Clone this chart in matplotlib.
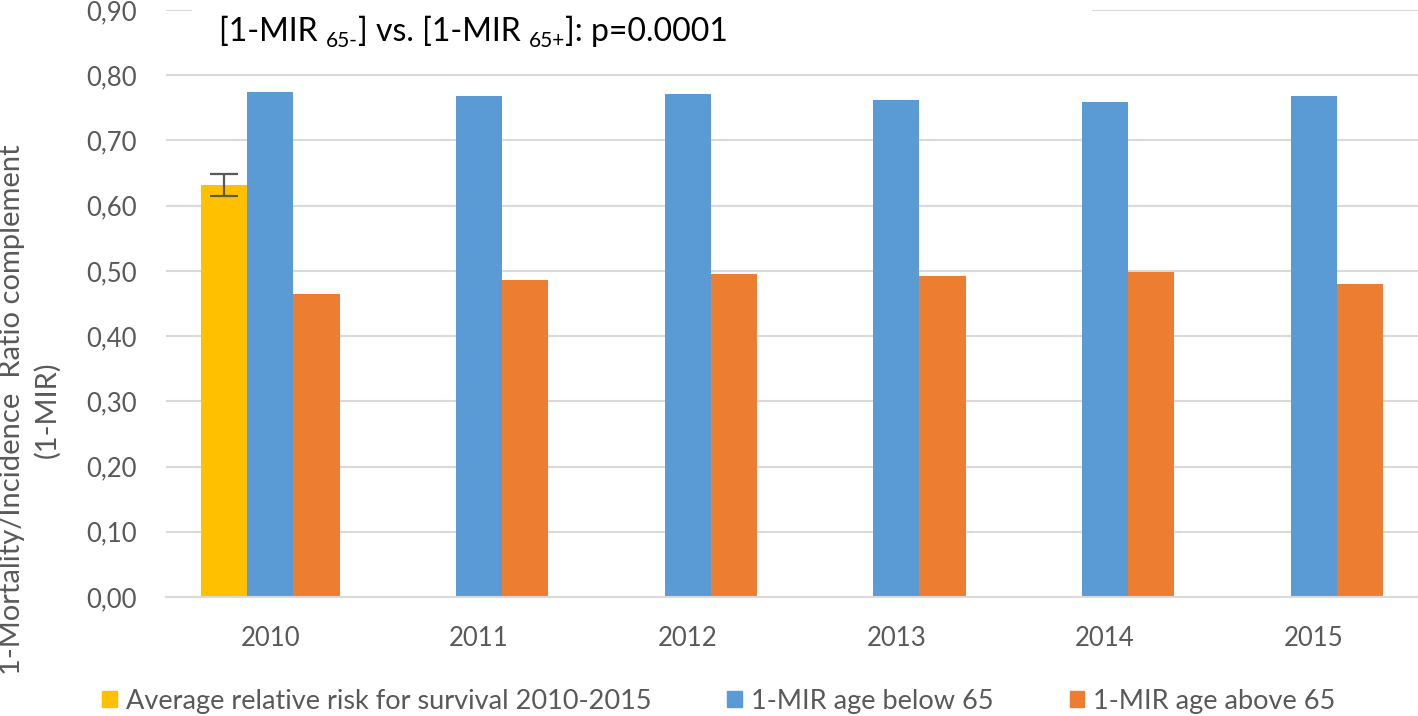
import numpy as np
from matplotlib import pyplot as plt
from matplotlib.patches import Rectangle, Patch
from matplotlib.ticker import FuncFormatter

plt.rcParams['font.family'] = ['Lato', 'DejaVu Sans']

years = ['2010', '2011', '2012', '2013', '2014', '2015']
avg_risk = [0.632, None, None, None, None, None]
avg_err = 0.017
mir_below = [0.775, 0.768, 0.771, 0.762, 0.759, 0.768]
mir_above = [0.465, 0.486, 0.495, 0.492, 0.498, 0.480]

c_yellow = '#FFC000'
c_blue = '#5B9BD5'
c_orange = '#ED7D31'
grey = '#595959'

W, H = 1418, 716
fig = plt.figure(figsize=(W / 100, H / 100), dpi=100)
ax = fig.add_axes([166 / W, 1 - 597 / H, 1 - 166 / W, (597 - 10) / H])

x = np.arange(len(years))
w = 0.222

# yellow bar only for 2010
ax.bar(x[0] - w, avg_risk[0], w, color=c_yellow, zorder=2,
       yerr=avg_err, error_kw=dict(ecolor=grey, elinewidth=1.6, capsize=10, capthick=1.6))
ax.bar(x, mir_below, w, color=c_blue, zorder=2)
ax.bar(x + w, mir_above, w, color=c_orange, zorder=2)

ax.set_xlim(-0.5, 5.5)
ax.set_ylim(0, 0.9)
ax.set_yticks(np.arange(0, 0.91, 0.1))
ax.yaxis.set_major_formatter(FuncFormatter(lambda v, p: ('%.2f' % v).replace('.', ',')))
ax.set_xticks(x)
ax.set_xticklabels(years)
ax.grid(axis='y', color='#D9D9D9', linewidth=1.5, zorder=0)
ax.set_axisbelow(True)
for s in ['top', 'right', 'left']:
    ax.spines[s].set_visible(False)
ax.spines['bottom'].set_color('#D9D9D9')
ax.spines['bottom'].set_linewidth(1.5)
ax.tick_params(axis='both', length=0, labelsize=18.5, colors=grey)
ax.tick_params(axis='x', pad=21)
ax.tick_params(axis='y', pad=21)

# white title box over top gridline
fig.patches.append(Rectangle((192 / W, 1 - 55 / H), (1092 - 192) / W, 50 / H,
                             transform=fig.transFigure, facecolor='white', edgecolor='none', zorder=3))

# title with subscripts, drawn piece by piece
renderer = fig.canvas.get_renderer()
title_parts = [('[1-MIR ', False), ('65-', True), ('] vs. [1-MIR ', False), ('65+', True), (']: p=0.0001', False)]
xpos = 219 / W
ybase = 1 - 41 / H
for s, sub in title_parts:
    t = fig.text(xpos, ybase - (6 / H if sub else 0), s, fontsize=15 if sub else 23,
                 color='black', ha='left', va='baseline', zorder=4)
    xpos = t.get_window_extent(renderer).x1 / W

fig.text(30 / W, 1 - 410 / H, '1-Mortality/Incidence  Ratio complement\n(1-MIR)',
         rotation=90, ha='center', va='center', multialignment='center',
         fontsize=21, color=grey, linespacing=1.4)

handles = [Patch(color=c_yellow), Patch(color=c_blue), Patch(color=c_orange)]
labels = ['Average relative risk for survival 2010-2015', '1-MIR age below 65', '1-MIR age above 65']
fig.legend(handles, labels, loc='center', bbox_to_anchor=(0.507, 1 - 701 / H), ncol=3,
           frameon=False, fontsize=19.5, labelcolor=grey, handlelength=0.55, handleheight=0.55,
           handletextpad=0.33, columnspacing=2.8, borderaxespad=0)

plt.savefig('out.png', dpi=100)
